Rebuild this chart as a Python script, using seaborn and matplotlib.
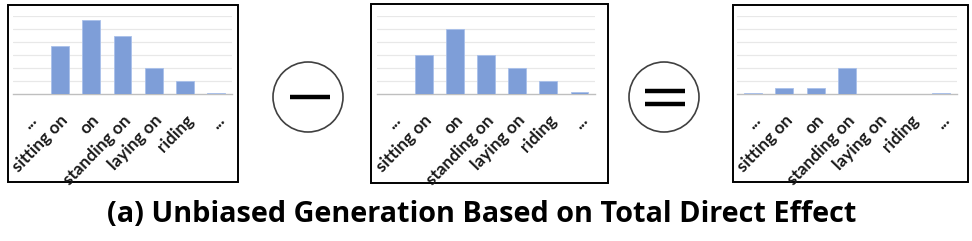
import matplotlib
matplotlib.use("Agg")
import matplotlib.pyplot as plt
import seaborn as sns
import pandas as pd
from matplotlib.patches import Rectangle, Circle

sns.set_theme(style="white")
plt.rcParams['font.family'] = ['Open Sans', 'DejaVu Sans']

categories = ["...", "sitting on", "on", "standing on", "laying on", "riding", "..."]
total_effect = [0.0, 3.7, 5.7, 4.5, 2.0, 1.0, 0.1]
biased_effect = [0.0, 3.0, 5.0, 3.0, 2.0, 1.0, 0.15]
direct_effect = [0.1, 0.5, 0.5, 2.0, 0.0, 0.0, 0.1]
caption = "(a) Unbiased Generation Based on Total Direct Effect"

W, H = 972, 241
fig = plt.figure(figsize=(W / 100, H / 100), dpi=100)

# overlay in pixel coordinates
ov = fig.add_axes([0, 0, 1, 1])
ov.set_xlim(0, W)
ov.set_ylim(H, 0)
ov.axis("off")

bar_color = "#7E9ED8"

def px_axes(x0, x1, ytop, ybot):
    return fig.add_axes([x0 / W, 1 - ybot / H, (x1 - x0) / W, (ybot - ytop) / H])

panels = [
    (total_effect, (13, 232), (8, 5, 238, 182)),
    (biased_effect, (377, 595), (371, 4, 608, 183)),
    (direct_effect, (737, 957), (733, 5, 968, 182)),
]

for vals, (x0, x1), (bx0, by0, bx1, by1) in panels:
    ov.add_patch(Rectangle((bx0, by0), bx1 - bx0, by1 - by0, fill=False,
                           edgecolor="black", lw=1.4, zorder=1))
    ax = px_axes(x0, x1, 16, 94)
    df = pd.DataFrame({"cat": list(range(len(categories))), "val": vals})
    sns.barplot(data=df, x="cat", y="val", ax=ax, color=bar_color,
                saturation=1, width=0.57, edgecolor="#A9C0EA", linewidth=0.6,
                zorder=3)
    ax.set_ylim(0, 6)
    ax.set_xlim(-0.5, len(categories) - 0.5)
    ax.set_yticks(range(1, 7))
    ax.yaxis.grid(True, color="#E8E8E8", lw=0.9, zorder=0)
    ax.set_axisbelow(True)
    ax.tick_params(axis="y", left=False, labelleft=False)
    ax.tick_params(axis="x", bottom=False, pad=7)
    for s in ["top", "left", "right"]:
        ax.spines[s].set_visible(False)
    ax.spines["bottom"].set_color("#BFBFBF")
    ax.spines["bottom"].set_linewidth(1.0)
    ax.set_xlabel("")
    ax.set_ylabel("")
    ax.set_xticks(range(len(categories)))
    ax.set_xticklabels(categories, rotation=46, ha="right", va="top",
                       rotation_mode="anchor", fontsize=12.4,
                       fontweight="bold", color="#1a1a1a",
                       family=["Lato", "DejaVu Sans"])
    ax.patch.set_alpha(0)

# minus and equals signs
ov.add_patch(Circle((308, 97), 35, fill=False, edgecolor="#404040", lw=1.2))
ov.plot([290, 330], [97, 97], color="black", lw=3.2, solid_capstyle="butt")
ov.add_patch(Circle((664, 97), 35, fill=False, edgecolor="#404040", lw=1.2))
ov.plot([645, 685], [91, 91], color="black", lw=3.2, solid_capstyle="butt")
ov.plot([645, 685], [104, 104], color="black", lw=3.2, solid_capstyle="butt")

ov.text(482, 214, caption, ha="center", va="center", fontsize=20.8,
        fontweight="bold", color="black")

fig.savefig("out.png", dpi=100)
